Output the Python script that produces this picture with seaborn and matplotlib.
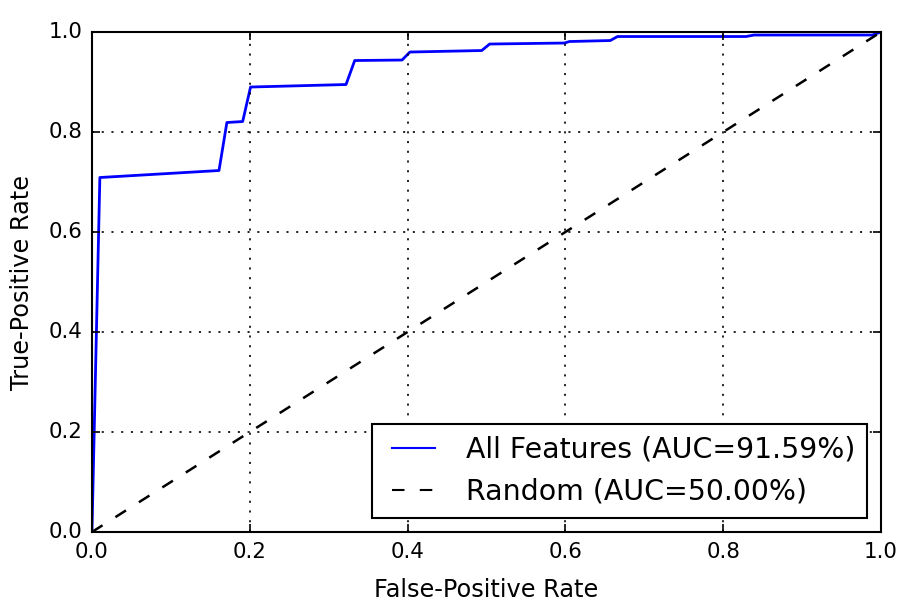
import matplotlib
matplotlib.use("Agg")
import matplotlib.pyplot as plt
import seaborn as sns
import pandas as pd

# ROC curve points (false-positive rate, true-positive rate)
fpr = [0.0, 0.010, 0.161, 0.171, 0.191, 0.201, 0.322, 0.333, 0.393, 0.403,
       0.494, 0.504, 0.599, 0.605, 0.657, 0.666, 0.829, 0.839, 0.989, 1.0]
tpr = [0.0, 0.709, 0.723, 0.819, 0.821, 0.890, 0.895, 0.943, 0.944, 0.960,
       0.963, 0.976, 0.978, 0.981, 0.983, 0.991, 0.991, 0.994, 0.994, 1.0]
model_label = "All Features (AUC=91.59%)"

rand_x = [0.0, 1.0]
rand_y = [0.0, 1.0]
random_label = "Random (AUC=50.00%)"

ticks = [0.0, 0.2, 0.4, 0.6, 0.8, 1.0]

plt.style.use("classic")
fig = plt.figure(figsize=(9.06, 6.02), dpi=100, facecolor="white")
ax = fig.add_axes([0.1015, 0.1163, 0.8709, 0.8305])

roc = pd.DataFrame({"fpr": fpr, "tpr": tpr})
rnd = pd.DataFrame({"fpr": rand_x, "tpr": rand_y})

dash = (0, (9, 11))
sns.lineplot(data=roc, x="fpr", y="tpr", sort=False, color="blue",
             linewidth=2.0, label=model_label, ax=ax, estimator=None)
sns.lineplot(data=rnd, x="fpr", y="tpr", sort=False, color="black",
             linestyle=dash, linewidth=1.8, label=random_label,
             ax=ax, estimator=None)

ax.set_xlim(0, 1)
ax.set_ylim(0, 1.0)
ax.set_xticks(ticks)
ax.set_yticks(ticks)
ax.grid(True, linestyle=(0, (1.5, 5.5)), color="black", linewidth=1.2)
ax.set_xlabel("False-Positive Rate", fontsize=17.3, labelpad=12)
ax.set_ylabel("True-Positive Rate", fontsize=17.3, labelpad=10)
ax.tick_params(labelsize=15.4, length=6, width=1.2, pad=7)
for s in ax.spines.values():
    s.set_linewidth(1.5)

leg = ax.legend(loc="lower right", fontsize=20.4, fancybox=False,
                handlelength=2.1, handletextpad=0.78, borderpad=0.42,
                labelspacing=0.5, borderaxespad=0.5)
leg.get_frame().set_edgecolor("black")
leg.get_frame().set_linewidth(1.5)
for h in leg.get_lines():
    h.set_linewidth(1.5)

fig.savefig("out.png", dpi=100, facecolor="white")
